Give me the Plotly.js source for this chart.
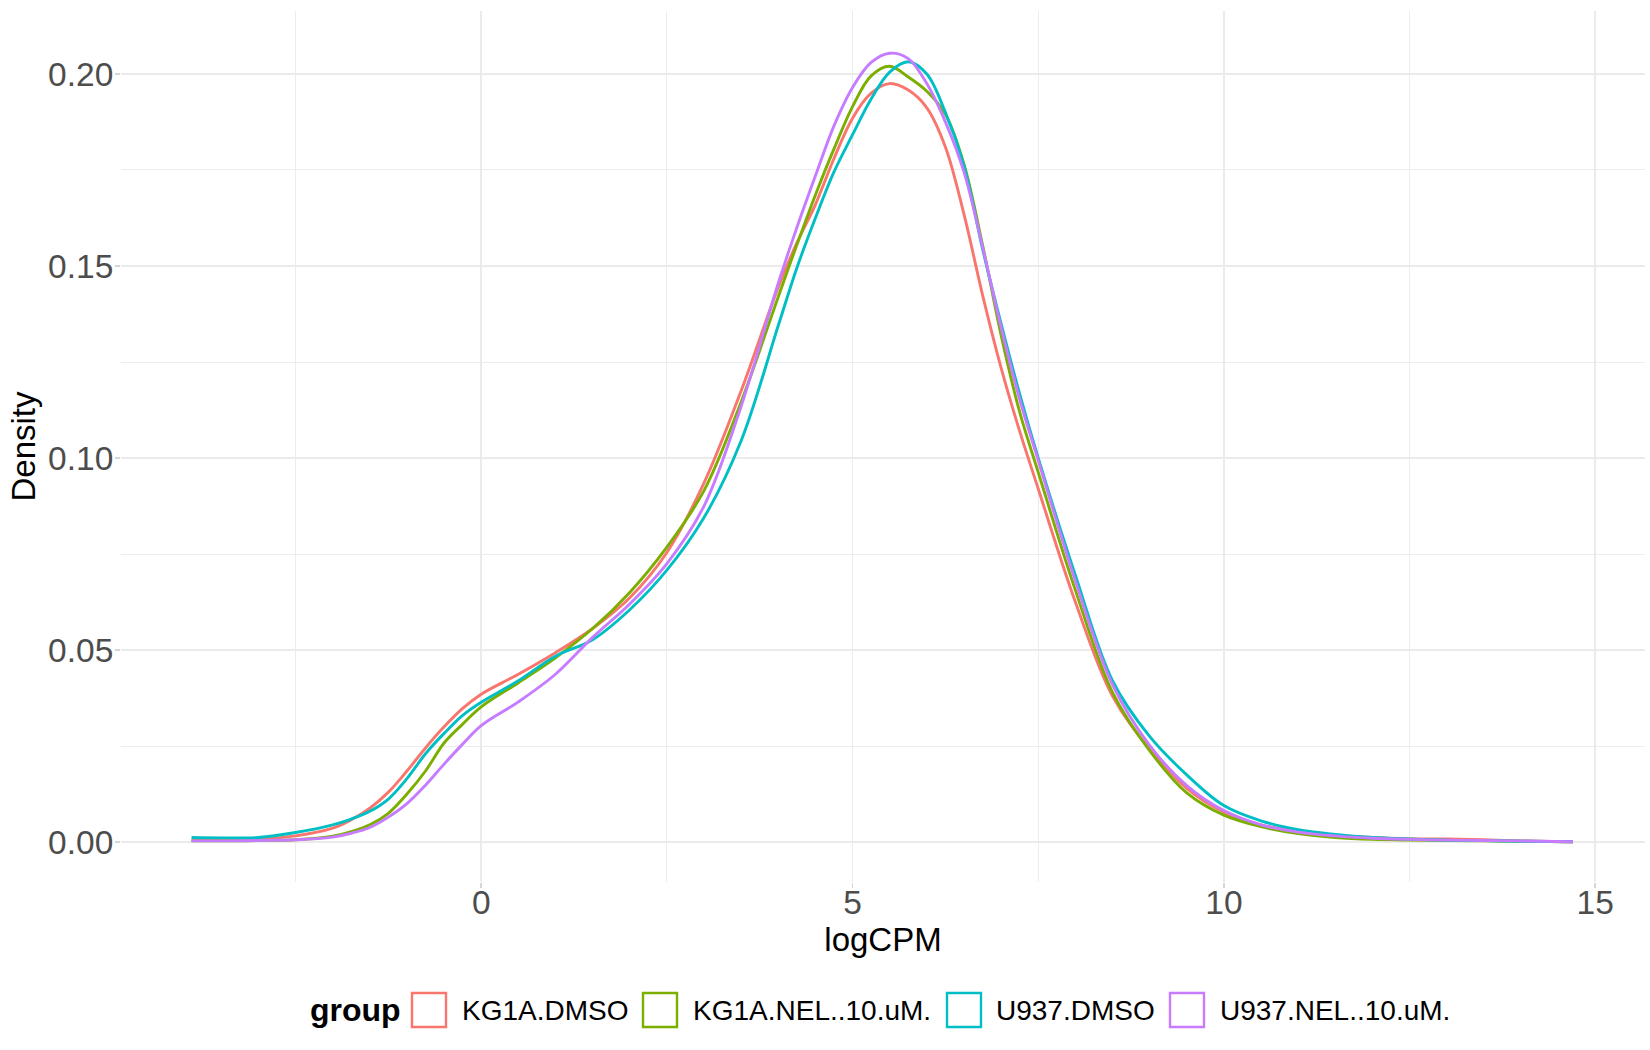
<!DOCTYPE html>
<html>
<head>
<meta charset="utf-8">
<script src="https://cdn.plot.ly/plotly-3.0.1.min.js"></script>
<style>
  html, body { margin: 0; padding: 0; background: #ffffff; }
  #chart { width: 1650px; height: 1050px; }
</style>
</head>
<body>
<div id="chart"></div>
<script>
// ---- data ----
const logCPM = [-3.9, -3.5, -3, -2.5, -2, -1.75, -1.5, -1.25, -1, -0.75, -0.5, -0.25, 0, 0.5, 1, 1.5, 2, 2.5,
  3, 3.5, 4, 4.25, 4.5, 4.75, 5, 5.25, 5.5, 5.75, 6, 6.25, 6.5, 6.75, 7, 7.25, 7.5, 8, 8.5, 9, 9.5,
  10, 10.5, 11, 11.5, 12, 12.5, 13, 13.5, 14, 14.7];

const groups = ['KG1A.DMSO', 'KG1A.NEL..10.uM.', 'U937.DMSO', 'U937.NEL..10.uM.'];

const densKG1A_DMSO = [0.0005, 0.0006, 0.0008, 0.0016, 0.0036, 0.0058, 0.0088, 0.0130, 0.0185, 0.0245, 0.0300, 0.0348,
  0.0385, 0.0437, 0.0493, 0.0556, 0.0636, 0.0754,
  0.0935, 0.1175, 0.1445, 0.1560, 0.1660, 0.1780, 0.1885, 0.1950, 0.1975, 0.1958, 0.1912, 0.1810, 0.1635,
  0.1425, 0.1235, 0.1070, 0.0920, 0.0625, 0.0380, 0.0243, 0.0140,
  0.0078, 0.0045, 0.0028, 0.0018, 0.0012, 0.0009, 0.0008, 0.0006, 0.0003, 0.0001];

const densKG1A_NEL = [0.0003, 0.0003, 0.0004, 0.0006, 0.0015, 0.0027, 0.0045, 0.0075, 0.0125, 0.0185, 0.0258, 0.0307,
  0.0352, 0.0415, 0.0480, 0.0556, 0.0650, 0.0768,
  0.0915, 0.1146, 0.1420, 0.1555, 0.1685, 0.1805, 0.1915, 0.1995, 0.2020, 0.1992, 0.1955, 0.1895, 0.1765,
  0.1555, 0.1320, 0.1120, 0.0963, 0.0656, 0.0390, 0.0238, 0.0128,
  0.0070, 0.0040, 0.0022, 0.0012, 0.0007, 0.0005, 0.0004, 0.0003, 0.0002, 0.0001];

const densU937_DMSO = [0.0012, 0.0011, 0.0012, 0.0025, 0.0045, 0.0060, 0.0080, 0.0112, 0.0165, 0.0230, 0.0283, 0.0330,
  0.0364, 0.0420, 0.0484, 0.0527, 0.0605, 0.0708,
  0.0845, 0.1045, 0.1345, 0.1495, 0.1625, 0.1745, 0.1842, 0.1935, 0.2005, 0.2032, 0.2000, 0.1900, 0.1762,
  0.1545, 0.1350, 0.1167, 0.1000, 0.0695, 0.0420, 0.0275, 0.0175,
  0.0095, 0.0055, 0.0032, 0.0020, 0.0012, 0.0008, 0.0005, 0.0004, 0.0002, 0.0001];

const densU937_NEL = [0.0003, 0.0003, 0.0004, 0.0006, 0.0013, 0.0023, 0.0038, 0.0065, 0.0100, 0.0148, 0.0203, 0.0255,
  0.0303, 0.0365, 0.0437, 0.0533, 0.0620, 0.0725,
  0.0875, 0.1135, 0.1455, 0.1600, 0.1735, 0.1865, 0.1965, 0.2030, 0.2054, 0.2040, 0.1975, 0.1875, 0.1745,
  0.1550, 0.1340, 0.1153, 0.0994, 0.0680, 0.0410, 0.0252, 0.0147,
  0.0082, 0.0045, 0.0026, 0.0016, 0.0010, 0.0007, 0.0005, 0.0004, 0.0003, 0.0001];

const xTickVals = [0, 5, 10, 15];
const xTickText = ['0', '5', '10', '15'];
const yTickVals = [0, 0.05, 0.10, 0.15, 0.20];
const yTickText = ['0.00', '0.05', '0.10', '0.15', '0.20'];

// ---- styling ----
const colors = ['#F8766D', '#7CAE00', '#00BFC4', '#C77CFF'];
const series = [densKG1A_DMSO, densKG1A_NEL, densU937_DMSO, densU937_NEL];
const FONT = 'Liberation Sans, Arial, Helvetica, sans-serif';

const W = 1650, H = 1050;
const M = { l: 121, r: 5, t: 11, b: 168 };
const plotW = W - M.l - M.r, plotH = H - M.t - M.b;
const px2paperX = px => (px - M.l) / plotW;
const px2paperY = py => (H - M.b - py) / plotH;

const traces = series.map((ys, i) => ({
  type: 'scatter',
  mode: 'lines',
  x: logCPM,
  y: ys,
  name: groups[i],
  line: { color: colors[i], width: 2.9, shape: 'spline', smoothing: 1 },
  showlegend: false,
  hoverinfo: 'x+y+name'
}));

// custom ggplot-style legend (outlined square keys)
const legendY = 1010;
const boxSize = 34;
const boxLeft = [412, 643, 947, 1170];
const textLeft = [460, 691, 994, 1218];

const shapes = groups.map((g, i) => ({
  type: 'rect', xref: 'paper', yref: 'paper',
  x0: px2paperX(boxLeft[i]), x1: px2paperX(boxLeft[i] + boxSize),
  y0: px2paperY(legendY + boxSize / 2), y1: px2paperY(legendY - boxSize / 2),
  line: { color: colors[i], width: 2.4 },
  fillcolor: 'rgba(0,0,0,0)'
}));

const annotations = [{
  text: '<b>group</b>', xref: 'paper', yref: 'paper',
  x: px2paperX(308), y: px2paperY(legendY), xanchor: 'left', yanchor: 'middle',
  showarrow: false, font: { family: FONT, size: 32, color: '#000000' }
}].concat(groups.map((g, i) => ({
  text: g, xref: 'paper', yref: 'paper',
  x: px2paperX(textLeft[i]), y: px2paperY(legendY), xanchor: 'left', yanchor: 'middle',
  showarrow: false, font: { family: FONT, size: 28, color: '#000000' }
})));

const gridColor = '#EBEBEB';

const layout = {
  width: W, height: H,
  margin: M,
  paper_bgcolor: '#ffffff',
  plot_bgcolor: '#ffffff',
  font: { family: FONT },
  showlegend: false,
  xaxis: {
    range: [-4.85, 15.67],
    tickmode: 'array', tickvals: xTickVals, ticktext: xTickText,
    ticks: 'outside', ticklen: 5, tickwidth: 1.5, tickcolor: '#D6D6D6',
    ticklabelstandoff: -14,
    showgrid: true, gridcolor: gridColor, gridwidth: 1.8,
    minor: { dtick: 2.5, tick0: 0, showgrid: true, gridcolor: gridColor, gridwidth: 0.9, ticks: '' },
    zeroline: false, showline: false,
    tickfont: { family: FONT, size: 33.5, color: '#4D4D4D' },
    title: { text: 'logCPM', font: { family: FONT, size: 33, color: '#000000' }, standoff: 0 },
    automargin: false
  },
  yaxis: {
    range: [-0.0104, 0.2164],
    tickmode: 'array', tickvals: yTickVals, ticktext: yTickText,
    ticks: 'outside', ticklen: 5, tickwidth: 1.5, tickcolor: '#D6D6D6',
    ticklabelstandoff: -5,
    showgrid: true, gridcolor: gridColor, gridwidth: 1.8,
    minor: { dtick: 0.025, tick0: 0, showgrid: true, gridcolor: gridColor, gridwidth: 0.9, ticks: '' },
    zeroline: false, showline: false,
    tickfont: { family: FONT, size: 33.5, color: '#4D4D4D' },
    title: { text: 'Density', font: { family: FONT, size: 33, color: '#000000' }, standoff: 2 },
    automargin: false
  },
  shapes: shapes,
  annotations: annotations
};

Plotly.newPlot('chart', traces, layout, { staticPlot: true, displayModeBar: false });
</script>
</body>
</html>
